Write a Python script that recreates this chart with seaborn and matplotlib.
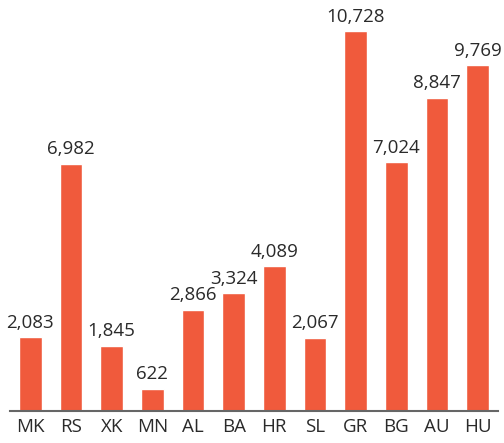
import matplotlib.pyplot as plt
import seaborn as sns
import pandas as pd

countries = ['MK', 'RS', 'XK', 'MN', 'AL', 'BA', 'HR', 'SL', 'GR', 'BG', 'AU', 'HU']
values = [2083, 6982, 1845, 622, 2866, 3324, 4089, 2067, 10728, 7024, 8847, 9769]

df = pd.DataFrame({'country': countries, 'value': values})

sns.set_style('white')
plt.rcParams['font.family'] = ['Open Sans', 'DejaVu Sans']

fig = plt.figure(figsize=(5.04, 4.43), dpi=100)
ax = fig.add_axes([10 / 504, 32 / 443, 488 / 504, 411 / 443])

sns.barplot(data=df, x='country', y='value', color='#F05A3C', saturation=1,
            width=0.55, ax=ax)

# value labels above bars
for i, v in enumerate(values):
    ax.text(i, v + 160, f'{v:,}', ha='center', va='bottom', fontsize=13.5, color='#2a2a2a')

ax.set_ylim(0, 11610)
ax.set_xlim(-0.5, len(countries) - 0.5)
ax.set_xlabel('')
ax.set_ylabel('')
ax.set_yticks([])
for s in ['top', 'right', 'left']:
    ax.spines[s].set_visible(False)
ax.spines['bottom'].set_color('#666666')
ax.spines['bottom'].set_linewidth(1.5)
ax.tick_params(axis='x', length=0, labelsize=13.5, labelcolor='#2a2a2a', pad=5)

fig.savefig('out.png', dpi=100)
